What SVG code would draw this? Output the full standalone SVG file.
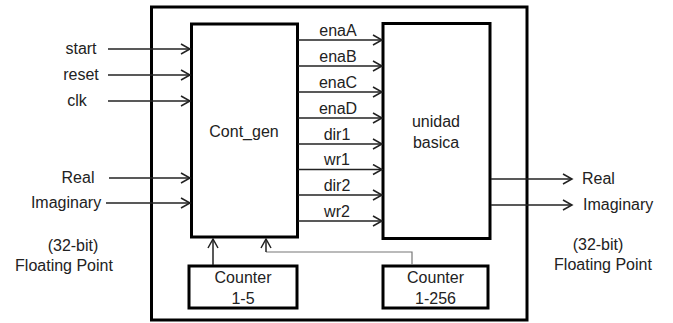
<svg xmlns="http://www.w3.org/2000/svg" width="673" height="323" viewBox="0 0 673 323">
<style>
text{font-family:"Liberation Sans",Arial,sans-serif;font-size:16px;fill:#222}
.m{text-anchor:middle}
.box{fill:#fff;stroke:#000;stroke-width:3}
.w{stroke:#222;stroke-width:1.5;fill:none}
.g{stroke:#777;stroke-width:1.2;fill:none}
</style>
<defs>
<marker id="ah" markerWidth="12" markerHeight="12" viewBox="0 0 12 12" refX="10" refY="6" orient="auto" markerUnits="userSpaceOnUse">
<path d="M1,1 L10,6 L1,11" fill="none" stroke="#222" stroke-width="1.5"/>
</marker>
</defs>
<g id="outer"><rect x="151.5" y="7" width="375.5" height="313" fill="#fff" stroke="#000" stroke-width="3"/></g>
<g id="cont_gen"><rect class="box" x="191.5" y="24" width="106" height="213"/><text class="m" x="244" y="137">Cont_gen</text></g>
<g id="unidad"><rect class="box" x="383" y="23.5" width="107" height="215"/><text class="m" x="436" y="127">unidad</text><text class="m" x="436" y="148">basica</text></g>
<g id="counter5"><rect class="box" x="189" y="266" width="108" height="42"/><text class="m" x="243" y="283">Counter</text><text class="m" x="243" y="304">1-5</text></g>
<g id="counter256"><rect class="box" x="383" y="266" width="105" height="42"/><text class="m" x="435.5" y="283">Counter</text><text class="m" x="435.5" y="304">1-256</text></g>
<g id="labels">
<text class="m" x="81" y="54">start</text>
<text class="m" x="81" y="80">reset</text>
<text class="m" x="77" y="106">clk</text>
<text class="m" x="78" y="183">Real</text>
<text class="m" x="66" y="208">Imaginary</text>
<text class="m" x="73" y="251">(32-bit)</text>
<text class="m" x="64" y="271">Floating Point</text>
<text x="582" y="184">Real</text>
<text x="583" y="210">Imaginary</text>
<text class="m" x="598" y="250">(32-bit)</text>
<text class="m" x="603" y="270">Floating Point</text>
<text class="m" x="338" y="36">enaA</text>
<text class="m" x="338" y="62">enaB</text>
<text class="m" x="338" y="88">enaC</text>
<text class="m" x="338" y="114">enaD</text>
<text class="m" x="337" y="140">dir1</text>
<text class="m" x="337" y="165">wr1</text>
<text class="m" x="337" y="191">dir2</text>
<text class="m" x="337" y="217">wr2</text>
</g>
<g id="connectors">
<line class="w" x1="108" y1="49" x2="190" y2="49" marker-end="url(#ah)"/>
<line class="w" x1="108" y1="75" x2="190" y2="75" marker-end="url(#ah)"/>
<line class="w" x1="108" y1="101" x2="190" y2="101" marker-end="url(#ah)"/>
<line class="w" x1="109" y1="178" x2="190" y2="178" marker-end="url(#ah)"/>
<line class="w" x1="106" y1="203" x2="190" y2="203" marker-end="url(#ah)"/>
<line class="w" x1="298" y1="40" x2="382" y2="40" marker-end="url(#ah)"/>
<line class="w" x1="298" y1="66" x2="382" y2="66" marker-end="url(#ah)"/>
<line class="w" x1="298" y1="92" x2="382" y2="92" marker-end="url(#ah)"/>
<line class="w" x1="298" y1="118" x2="382" y2="118" marker-end="url(#ah)"/>
<line class="w" x1="298" y1="144" x2="382" y2="144" marker-end="url(#ah)"/>
<line class="w" x1="298" y1="169.5" x2="382" y2="169.5" marker-end="url(#ah)"/>
<line class="w" x1="298" y1="195" x2="382" y2="195" marker-end="url(#ah)"/>
<line class="w" x1="298" y1="221" x2="382" y2="221" marker-end="url(#ah)"/>
<line class="w" x1="491" y1="179" x2="572" y2="179" marker-end="url(#ah)"/>
<line class="w" x1="491" y1="205" x2="572" y2="205" marker-end="url(#ah)"/>
<line class="w" x1="213" y1="265" x2="213" y2="239" marker-end="url(#ah)"/>
<path class="g" d="M412,265 V252 H266"/>
<line class="w" x1="266" y1="252" x2="266" y2="239" marker-end="url(#ah)"/>
</g>
</svg>
